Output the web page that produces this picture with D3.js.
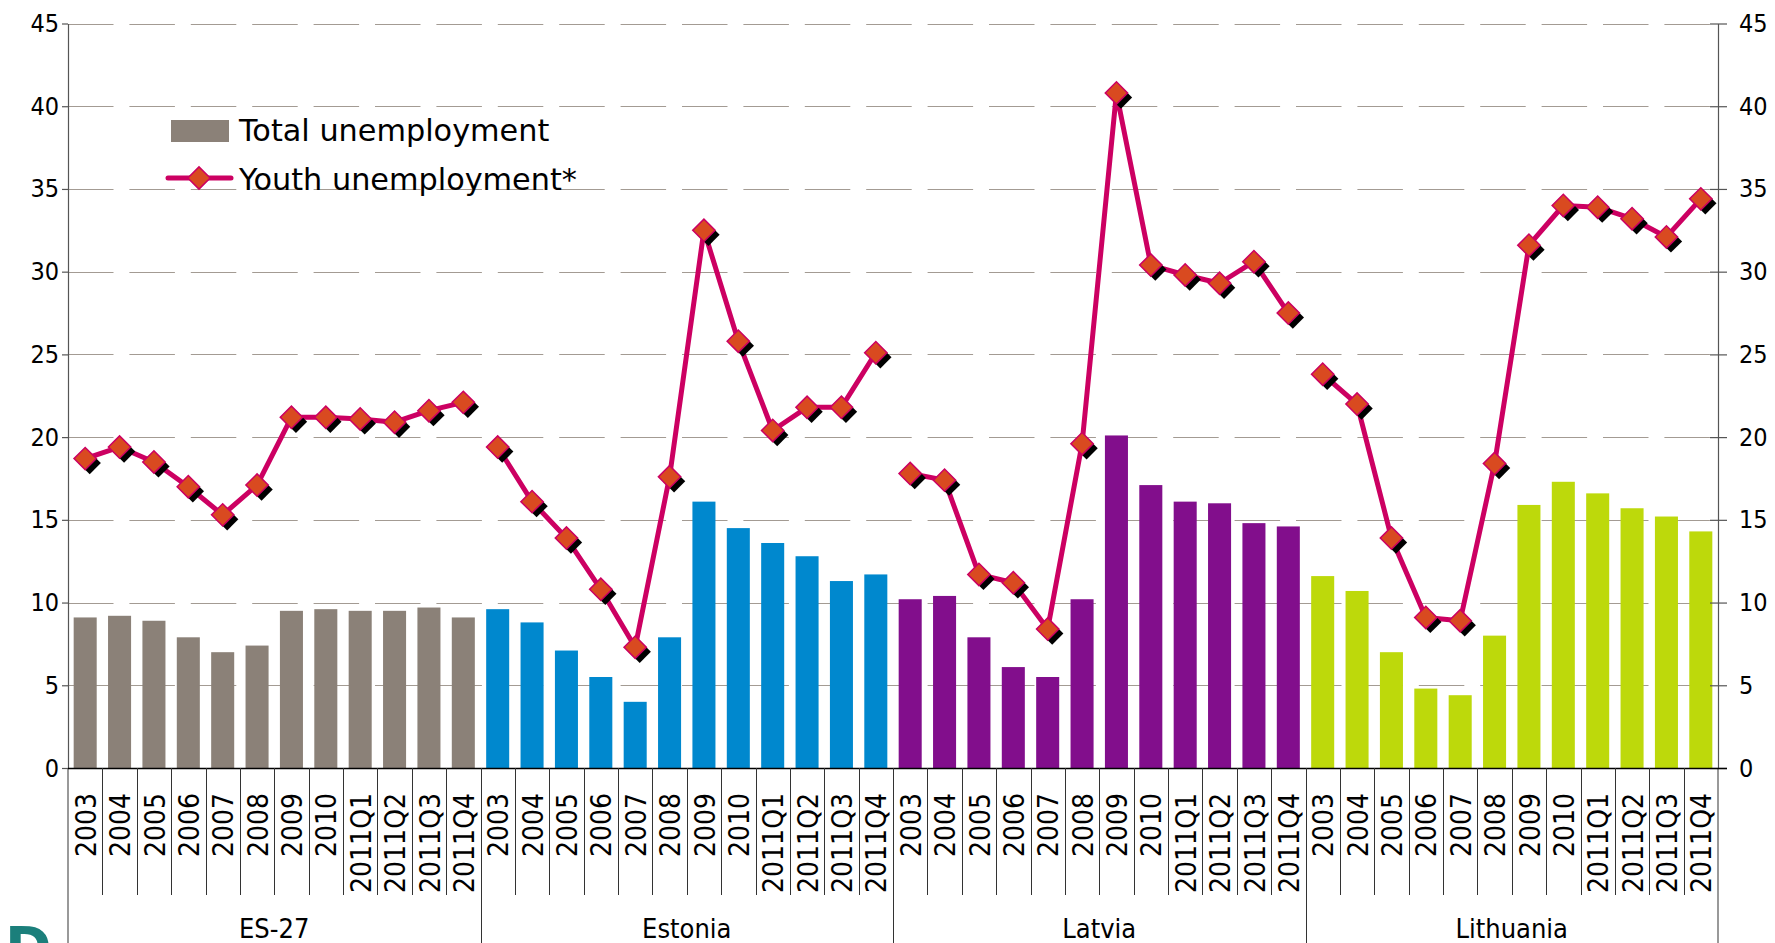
<!DOCTYPE html>
<html>
<head>
<meta charset="utf-8">
<script src="https://cdn.jsdelivr.net/npm/d3@7"></script>
<style>
  html, body { margin: 0; padding: 0; background: #fff; }
  svg { display: block; }
  text { font-family: "DejaVu Sans Condensed", "DejaVu Sans", sans-serif; font-stretch: condensed; fill: #000; }
  text.legend-label { font-family: "DejaVu Sans", sans-serif; font-stretch: normal; }
</style>
</head>
<body>
<svg id="chart" width="1775" height="943"></svg>
<script>
// Unemployment rates (%), total and youth, for the EU and the Baltic states
const groups = ["ES-27", "Estonia", "Latvia", "Lithuania"];
const periods = ["2003", "2004", "2005", "2006", "2007", "2008", "2009", "2010",
                 "2011Q1", "2011Q2", "2011Q3", "2011Q4"];

const totalES27      = [9.1, 9.2, 8.9, 7.9, 7.0, 7.4, 9.5, 9.6, 9.5, 9.5, 9.7, 9.1];
const totalEstonia   = [9.6, 8.8, 7.1, 5.5, 4.0, 7.9, 16.1, 14.5, 13.6, 12.8, 11.3, 11.7];
const totalLatvia    = [10.2, 10.4, 7.9, 6.1, 5.5, 10.2, 20.1, 17.1, 16.1, 16.0, 14.8, 14.6];
const totalLithuania = [11.6, 10.7, 7.0, 4.8, 4.4, 8.0, 15.9, 17.3, 16.6, 15.7, 15.2, 14.3];

const youthES27      = [18.7, 19.4, 18.5, 17.0, 15.3, 17.1, 21.2, 21.2, 21.1, 20.9, 21.6, 22.1];
const youthEstonia   = [19.4, 16.1, 13.9, 10.8, 7.3, 17.6, 32.5, 25.8, 20.4, 21.8, 21.8, 25.1];
const youthLatvia    = [17.8, 17.4, 11.7, 11.2, 8.4, 19.6, 40.8, 30.4, 29.8, 29.3, 30.6, 27.5];
const youthLithuania = [23.8, 22.0, 13.9, 9.1, 8.9, 18.4, 31.6, 34.0, 33.9, 33.2, 32.1, 34.4];

const yTicks = [0, 5, 10, 15, 20, 25, 30, 35, 40, 45];
const legendLabels = ["Total unemployment", "Youth unemployment*"];

// Styling
const barColors = ["#8b8178", "#0088ce", "#820e8c", "#bdd90b"];
const lineColor = "#cc0062";
const markerFill = "#d94a20";
const gridColor = "#a39b93";

const totals = [totalES27, totalEstonia, totalLatvia, totalLithuania];
const youths = [youthES27, youthEstonia, youthLatvia, youthLithuania];

// Flatten into one row per bar
const rows = [];
groups.forEach((g, gi) => {
  periods.forEach((p, pi) => {
    rows.push({ idx: gi * periods.length + pi, group: gi, period: p,
                total: totals[gi][pi], youth: youths[gi][pi] });
  });
});

const svg = d3.select("#chart");
const plotLeft = 68, plotRight = 1718, plotTop = 23.5, plotBottom = 768, baseY = 943;
const n = rows.length;

const xBand = d3.scaleBand().domain(d3.range(n)).range([plotLeft, plotRight]).paddingInner(0.33).paddingOuter(0.165);
const xCat = d3.scaleBand().domain(d3.range(n)).range([plotLeft, plotRight]);
const y = d3.scaleLinear().domain([0, 45]).range([plotBottom, plotTop]);
const step = xCat.step();

// Dashed gridlines
svg.append("g").selectAll("line")
  .data(yTicks.filter(v => v > 0))
  .join("line")
  .attr("x1", plotLeft).attr("x2", plotRight)
  .attr("y1", d => Math.round(y(d)) + 0.5).attr("y2", d => Math.round(y(d)) + 0.5)
  .attr("stroke", gridColor).attr("stroke-width", 1.2)
  .attr("stroke-dasharray", "45.5 15.9");

// Bars
svg.append("g").selectAll("rect")
  .data(rows)
  .join("rect")
  .attr("x", d => xBand(d.idx))
  .attr("width", xBand.bandwidth())
  .attr("y", d => y(d.total))
  .attr("height", d => y(0) - y(d.total))
  .attr("fill", d => barColors[d.group]);

// Left axis
const axL = svg.append("g").attr("transform", `translate(${plotLeft},0)`)
  .call(d3.axisLeft(y).tickValues(yTicks).tickSize(6).tickSizeOuter(0).tickPadding(3));
axL.select(".domain").attr("stroke", "#555").attr("stroke-width", 1.2);
axL.selectAll(".tick line").attr("stroke", "#555").attr("stroke-width", 1.2);
axL.selectAll(".tick text").style("font-size", "25px").attr("fill", "#000");
svg.append("line").attr("x1", plotLeft).attr("x2", plotLeft).attr("y1", plotBottom).attr("y2", baseY)
  .attr("stroke", "#555").attr("stroke-width", 1.2);

// Right axis
const axR = svg.append("g").attr("transform", `translate(${plotRight},0)`)
  .call(d3.axisRight(y).tickValues(yTicks).tickSize(9).tickSizeOuter(0).tickPadding(12));
axR.select(".domain").attr("stroke", "#555").attr("stroke-width", 1.2);
axR.selectAll(".tick line").attr("x1", -8).attr("stroke", "#555").attr("stroke-width", 1.2);
axR.selectAll(".tick text").style("font-size", "25px").attr("fill", "#000");
svg.append("line").attr("x1", plotRight).attr("x2", plotRight).attr("y1", plotBottom).attr("y2", baseY)
  .attr("stroke", "#555").attr("stroke-width", 1.2);

// Category axis with rotated period labels
const axB = svg.append("g").attr("transform", `translate(0,${plotBottom})`)
  .call(d3.axisBottom(xCat).tickSize(0).tickFormat(i => rows[i].period));
axB.select(".domain").attr("d", `M${plotLeft},0.5H${plotRight + 9}`).attr("stroke", "#000").attr("stroke-width", 1.5);
axB.selectAll(".tick text")
  .attr("transform", "rotate(-90)")
  .attr("x", -25).attr("y", 0).attr("dy", "0.38em")
  .attr("text-anchor", "end")
  .style("font-size", "28px");

// Separators between periods and groups
const bounds = d3.range(1, n);
svg.append("g").selectAll("line")
  .data(bounds)
  .join("line")
  .attr("x1", i => Math.round(plotLeft + i * step) + 0.5)
  .attr("x2", i => Math.round(plotLeft + i * step) + 0.5)
  .attr("y1", plotBottom)
  .attr("y2", i => (i % periods.length === 0) ? baseY : 895)
  .attr("stroke", "#333").attr("stroke-width", 1);

// Group labels
svg.append("g").selectAll("text")
  .data(groups)
  .join("text")
  .attr("x", (g, gi) => plotLeft + (gi * periods.length + periods.length / 2) * step)
  .attr("y", 938)
  .attr("text-anchor", "middle")
  .style("font-size", "27px")
  .text(d => d);

// Youth unemployment lines, one per group
const line = d3.line().x(d => xCat(d.idx) + step / 2).y(d => y(d.youth));
const lg = svg.append("g");
groups.forEach((g, gi) => {
  lg.append("path")
    .datum(rows.filter(r => r.group === gi))
    .attr("d", line)
    .attr("fill", "none")
    .attr("stroke", lineColor)
    .attr("stroke-width", 5)
    .attr("stroke-linejoin", "round");
});

const diamond = d3.symbol().type(d3.symbolSquare).size(250);
// Marker shadows then markers
svg.append("g").selectAll("path")
  .data(rows)
  .join("path")
  .attr("d", diamond)
  .attr("transform", d => `translate(${xCat(d.idx) + step / 2 + 4.5},${y(d.youth) + 4.5}) rotate(45)`)
  .attr("fill", "#000");
svg.append("g").selectAll("path")
  .data(rows)
  .join("path")
  .attr("d", diamond)
  .attr("transform", d => `translate(${xCat(d.idx) + step / 2},${y(d.youth)}) rotate(45)`)
  .attr("fill", markerFill)
  .attr("stroke", lineColor).attr("stroke-width", 1.5);

// Legend
const leg = svg.append("g");
leg.append("rect").attr("x", 171).attr("y", 120).attr("width", 58).attr("height", 22).attr("fill", barColors[0]);
leg.append("text").attr("class", "legend-label").attr("x", 239).attr("y", 141)
  .style("font-size", "30.3px").text(legendLabels[0]);
leg.append("line").attr("x1", 168).attr("x2", 231).attr("y1", 178).attr("y2", 178)
  .attr("stroke", lineColor).attr("stroke-width", 5).attr("stroke-linecap", "round");
leg.append("path").attr("d", diamond).attr("transform", "translate(199,178) rotate(45)")
  .attr("fill", markerFill).attr("stroke", lineColor).attr("stroke-width", 1.5);
leg.append("text").attr("class", "legend-label").attr("x", 239).attr("y", 190)
  .style("font-size", "30.3px").text(legendLabels[1]);

// Corner mark
svg.append("text").attr("x", 5).attr("y", 966)
  .style("font-family", "'DejaVu Sans', sans-serif").style("font-stretch", "normal")
  .style("font-weight", "bold").style("font-size", "56px")
  .style("fill", "#1b7f7b")
  .text("D");
</script>
</body>
</html>
